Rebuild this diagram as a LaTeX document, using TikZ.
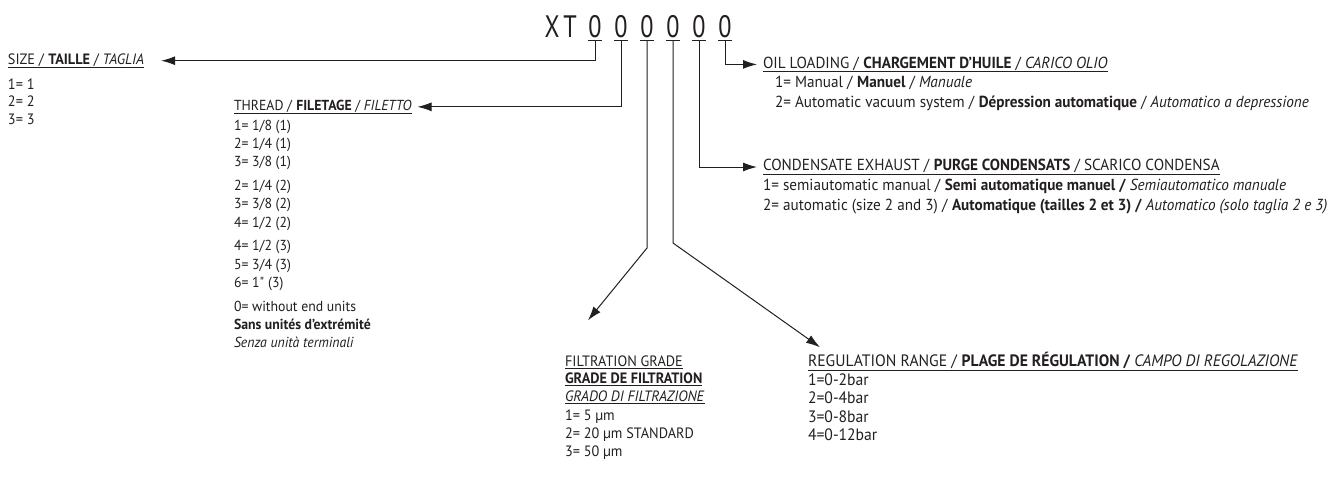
\documentclass[tikz,border=0pt]{standalone}
\usepackage{fontspec}
\setmainfont{PT Sans}[FakeStretch=0.95]
\newfontfamily\codefont{PT Sans}[FakeStretch=0.78]
\usetikzlibrary{positioning,arrows.meta}
\definecolor{ink}{RGB}{35,31,32}
\newcommand{\hl}[1]{\underline{#1}}
\newcommand{\liststrut}{\rule{0pt}{12pt}}

\begin{document}
\begin{tikzpicture}[x=1pt,y=-1pt,
  every node/.style={inner sep=0pt, outer sep=0pt, text=ink},
  txt/.style 2 args={font=\fontsize{#1}{#2}\selectfont},
  code/.style={font=\codefont\fontsize{31}{31}\selectfont, anchor=base},
  hd/.style={anchor=base west},
  lst/.style={align=left, anchor=north west},
  lead/.style={line width=1pt, draw=ink},
  arr/.style={lead, -{Latex[length=14pt,width=9pt]}}]

\path[use as bounding box] (0,0) rectangle (1337,482);

% product code
\node[code] (cx) at (552,37) {X};
\node[code] (ct) at (570,37) {T};
\foreach \i in {1,...,6} {
  \node[code] (z\i) at (595+26*\i-26,37) {0};
  \draw[line width=0.8pt, draw=ink] ([yshift=-3pt]z\i.south west) -- ([yshift=-3pt]z\i.south east);
  \coordinate (u\i) at ([yshift=-3pt]z\i.south);
}

% size
\node[hd, txt={15}{17.5}] (sizehd) at (8,64) {\hl{SIZE / \textbf{TAILLE} / \textit{TAGLIA}}};
\node[lst, txt={15}{17.5}] (sizelst) at (8,77) {\liststrut 1= 1\\2= 2\\3= 3};

% thread
\node[hd, txt={14.5}{18.3}] (threadhd) at (234,110) {\hl{THREAD / \textbf{FILETAGE} / \textit{FILETTO}}};
\node[lst, txt={14.5}{18.3}] (threadlst) at (234,118) {\liststrut 1= 1/8 (1)\\2= 1/4 (1)\\3= 3/8 (1)\\[5.5pt]
  2= 1/4 (2)\\3= 3/8 (2)\\4= 1/2 (2)\\[5.5pt]
  4= 1/2 (3)\\5= 3/4 (3)\\6= 1\textquotedbl{} (3)\\[5.5pt]
  0= without end units\\\textbf{Sans unités d'extrémité}\\\textit{Senza unità terminali}};

% oil loading
\node[hd, txt={16}{19.5}] (oilhd) at (763,68) {\hl{OIL LOADING / \textbf{CHARGEMENT D'HUILE} / \textit{CARICO OLIO}}};
\node[lst, txt={16}{19.5}] (oillst) at (775,75.6) {\liststrut 1= Manual / \textbf{Manuel} / \textit{Manuale}\\
  2= Automatic vacuum system / \textbf{Dépression automatique} / \textit{Automatico a depressione}};

% condensate exhaust
\node[hd, txt={16}{19.5}] (condhd) at (763,170.6) {\hl{CONDENSATE EXHAUST / \textbf{PURGE CONDENSATS} / SCARICO CONDENSA}};
\node[lst, txt={16}{19.5}] (condlst) at (763,178.6) {\liststrut 1= semiautomatic manual / \textbf{Semi automatique manuel /} \textit{Semiautomatico manuale}\\
  2= automatic (size 2 and 3) / \textbf{Automatique (tailles 2 et 3) /} \textit{Automatico (solo taglia 2 e 3)}};

% filtration grade
\node[lst, txt={15}{17.5}] (filthd) at (565,354.3) {\liststrut\hl{FILTRATION GRADE}\\\hl{\textbf{GRADE DE FILTRATION}}\\\hl{\textit{GRADO DI FILTRAZIONE}}};
\node[lst, txt={15}{18}] (filtlst) at (565,408.3) {\liststrut 1= 5 µm\\2= 20 µm STANDARD\\3= 50 µm};

% regulation range
\node[hd, txt={16.5}{18.2}] (reghd) at (808,366.6) {\hl{REGULATION RANGE / \textbf{PLAGE DE RÉGULATION /} \textit{CAMPO DI REGOLAZIONE}}};
\node[lst, txt={16.5}{18.2}] (reglst) at (808,373.6) {\liststrut 1=0-2bar\\2=0-4bar\\3=0-8bar\\4=0-12bar};

% connectors
\draw[arr] (u1) |- ([xshift=17pt]sizehd.east);
\draw[arr] (u2) |- ([xshift=6pt]threadhd.east);
\coordinate (k3) at (647,248);
\coordinate (k4) at (673,243);
\draw[arr] (u3) -- (k3) -- ([xshift=23pt,yshift=34pt]filthd.north west);
\draw[arr] (u4) -- (k4) -- ([xshift=12pt,yshift=5pt]reghd.north west);
\draw[arr] (u5) |- ([xshift=-6pt]condhd.west);
\draw[arr] (u6) |- ([xshift=-6pt]oilhd.west);

\end{tikzpicture}
\end{document}
